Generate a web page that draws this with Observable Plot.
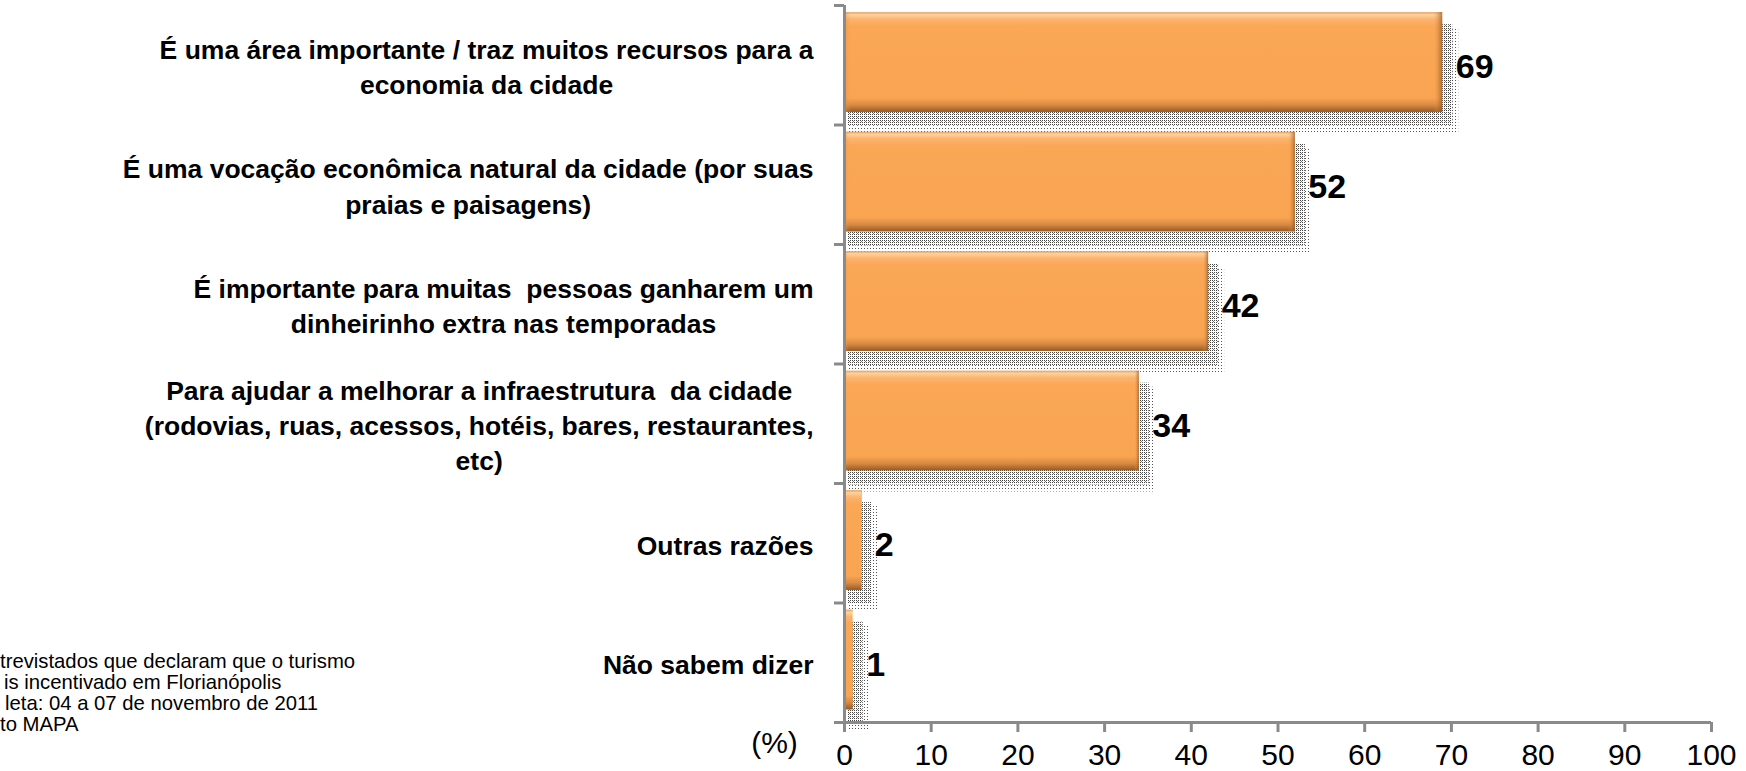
<!DOCTYPE html>
<html>
<head>
<meta charset="utf-8">
<script src="https://cdn.jsdelivr.net/npm/d3@7"></script>
<script src="https://cdn.jsdelivr.net/npm/@observablehq/plot@0.6"></script>
<style>
  html, body { margin: 0; padding: 0; background: #fff; }
  #wrap { position: relative; width: 1746px; height: 771px; overflow: hidden; }
  #foot { position: absolute; left: 0; top: 651px; font: 20.3px/21px "Liberation Sans", Arial, sans-serif; color: #000; white-space: nowrap; }
  #foot div { position: relative; }
</style>
</head>
<body>
<div id="wrap"><div id="chart"></div><div id="foot"></div></div>
<script>
const categories = [
  "É uma área importante / traz muitos recursos para a\neconomia da cidade",
  "É uma vocação econômica natural da cidade (por suas\npraias e paisagens)",
  "É importante para muitas  pessoas ganharem um\ndinheirinho extra nas temporadas",
  "Para ajudar a melhorar a infraestrutura  da cidade\n(rodovias, ruas, acessos, hotéis, bares, restaurantes,\netc)",
  "Outras razões",
  "Não sabem dizer"
];
const values = [69, 52, 42, 34, 2, 1];
const xTicks = [0, 10, 20, 30, 40, 50, 60, 70, 80, 90, 100];
const unitLabel = "(%)";
const footnoteLines = [
  "trevistados que declaram que o turismo",
  "is incentivado em Florianópolis",
  "leta: 04 a 07 de novembro de 2011",
  "to MAPA"
];

const FONT = "'Liberation Sans', Arial, sans-serif";
const gray = "#8a8a8a";
const data = categories.map((c, i) => ({ c, i, v: values[i] }));

// measure label widths to centre the lines of each label block
const LABEL_SIZE = 26.5;
const ctx = document.createElement("canvas").getContext("2d");
ctx.font = `bold ${LABEL_SIZE}px 'Liberation Sans', Arial, sans-serif`;
const labelWidth = c => d3.max(c.split("\n"), l => ctx.measureText(l).width);

const labelMarks = data.map(d => Plot.text([d], {
  x: () => 0, y: r => r.i + 0.5, text: "c",
  textAnchor: "middle", dx: -(31 + labelWidth(d.c) / 2), dy: 0,
  lineHeight: 1.33, fontSize: LABEL_SIZE, fontWeight: "bold", fill: "#000"
}));

const y1 = d => d.i + 0.06, y2 = d => d.i + 0.895;

const chart = Plot.plot({
  width: 1746, height: 771,
  marginLeft: 844, marginRight: 35, marginTop: 5, marginBottom: 49,
  style: { fontFamily: FONT, background: "white", color: "#000", overflow: "visible" },
  x: { domain: [0, 100], label: null },
  y: { domain: [0, 6], reverse: true, label: null },
  marks: [
    // shadows
    Plot.rectX(data, { x1: 0, x2: "v", y1, y2, dx: 5, dy: 16, insetRight: -11, insetBottom: -5, fill: "url(#dotsSparse)" }),
    Plot.rectX(data, { x1: 0, x2: "v", y1, y2, dx: 4, dy: 12, insetRight: -6, insetBottom: -2, fill: "url(#dotsDense)" }),
    // bars
    Plot.rectX(data, { x1: 0, x2: "v", y1, y2, fill: "url(#barGrad)" }),
    Plot.rectX(data, { x1: 0, x2: "v", y1, y2, fill: "url(#barEdge)" }),
    // axes
    Plot.axisY({ ticks: d3.range(0, 7), tickFormat: () => "", tickSize: 10, stroke: gray, strokeWidth: 3 }),
    Plot.axisX({ ticks: xTicks, tickSize: 10, tickPadding: 11, fontSize: 30, stroke: gray, strokeWidth: 3, fill: "#000" }),
    Plot.ruleX([0], { stroke: gray, strokeWidth: 3 }),
    Plot.ruleY([6], { stroke: gray, strokeWidth: 3 }),
    // values
    Plot.text(data, { x: "v", y: d => d.i + 0.5, text: d => String(d.v), textAnchor: "start", dx: 13, dy: 2, fontSize: 34, fontWeight: "bold", fill: "#000" }),
    // category labels
    ...labelMarks,
    // unit
    Plot.text([unitLabel], { frameAnchor: "bottom-left", text: d => d, textAnchor: "middle", lineAnchor: "middle", dx: -70, dy: 21, fontSize: 30, fill: "#000" })
  ]
});

const defs = `
<defs>
  <linearGradient id="barGrad" x1="0" y1="0" x2="0" y2="1">
    <stop offset="0" stop-color="#e39a55"/>
    <stop offset="0.025" stop-color="#fdd3a0"/>
    <stop offset="0.07" stop-color="#fcb46e"/>
    <stop offset="0.14" stop-color="#faa756"/>
    <stop offset="0.86" stop-color="#f9a451"/>
    <stop offset="0.93" stop-color="#d88a44"/>
    <stop offset="1" stop-color="#955a24"/>
  </linearGradient>
  <linearGradient id="barEdge" x1="0" y1="0" x2="1" y2="0">
    <stop offset="0" stop-color="#e08a3c" stop-opacity="0.55"/>
    <stop offset="0.012" stop-color="#f9a451" stop-opacity="0"/>
    <stop offset="0.985" stop-color="#f9a451" stop-opacity="0"/>
    <stop offset="1" stop-color="#8a5220" stop-opacity="0.7"/>
  </linearGradient>
  <pattern id="dotsSparse" width="3" height="3" patternUnits="userSpaceOnUse">
    <rect x="1" y="1" width="1" height="1" fill="#555"/>
  </pattern>
  <pattern id="dotsDense" width="4" height="4" patternUnits="userSpaceOnUse">
    <rect width="4" height="4" fill="#fff"/>
    <rect x="0" y="0" width="1" height="1" fill="#444"/>
    <rect x="2" y="0" width="1" height="1" fill="#444"/>
    <rect x="1" y="1" width="1" height="1" fill="#777"/>
    <rect x="0" y="2" width="1" height="1" fill="#444"/>
    <rect x="2" y="2" width="1" height="1" fill="#444"/>
  </pattern>
</defs>`;
chart.insertAdjacentHTML("afterbegin", defs);
document.getElementById("chart").appendChild(chart);

const footOffsets = [0, 4, 5, 0];
const foot = document.getElementById("foot");
footnoteLines.forEach((t, k) => {
  const div = document.createElement("div");
  div.textContent = t;
  div.style.left = footOffsets[k] + "px";
  foot.appendChild(div);
});
</script>
</body>
</html>
